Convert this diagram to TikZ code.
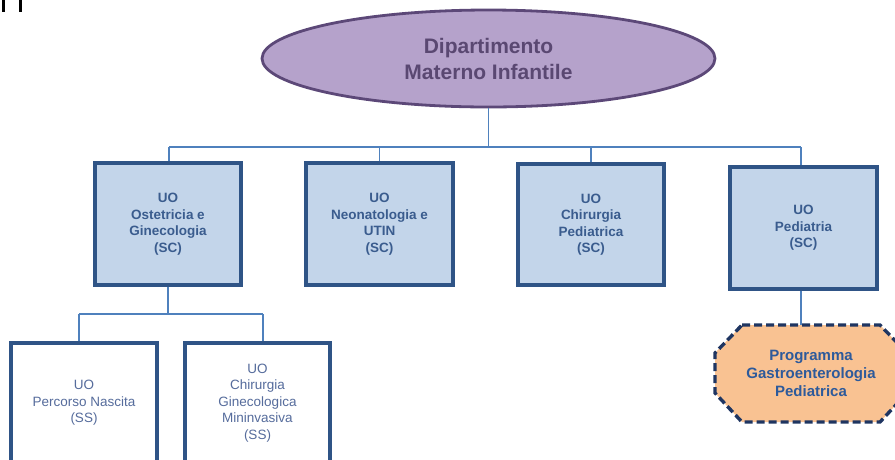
\documentclass[tikz,border=0pt]{standalone}
\usepackage{fontspec}
\setmainfont{Liberation Sans}
\usetikzlibrary{shapes.geometric}
\definecolor{lineblue}{HTML}{4F81BD}
\definecolor{boxfill}{HTML}{C3D5EA}
\definecolor{boxedge}{HTML}{2F5486}
\definecolor{boxtext}{HTML}{3A5C8E}
\definecolor{subtext}{HTML}{566C9C}
\definecolor{ellfill}{HTML}{B5A2CB}
\definecolor{elledge}{HTML}{5C4878}
\definecolor{elltext}{HTML}{5A4872}
\definecolor{octfill}{HTML}{F9C292}
\definecolor{octedge}{HTML}{1F3561}
\definecolor{octtext}{HTML}{2D5A9B}
\tikzset{
  conn/.style={draw=lineblue, line width=1.5pt},
  topbox/.style={draw=boxedge, fill=boxfill, line width=3.2pt, inner sep=0pt,
    align=center, text=boxtext, font=\fontsize{13.5}{16.5}\selectfont\bfseries},
  subbox/.style={draw=boxedge, fill=white, line width=3.2pt, inner sep=0pt,
    align=center, text=subtext, font=\fontsize{13.5}{16.5}\selectfont},
  dept/.style={ellipse, draw=elledge, fill=ellfill, line width=2.8pt, inner sep=0pt,
    minimum width=453pt, minimum height=97pt, align=center, text=elltext,
    font=\fontsize{21}{26}\selectfont\bfseries},
  octlabel/.style={align=center, text=octtext, inner sep=0pt,
    font=\fontsize{15}{18}\selectfont\bfseries}
}
\begin{document}
\begin{tikzpicture}[x=1pt,y=-1pt]
\useasboundingbox (0,0) rectangle (895,459);
% cropped artifacts at top-left
\fill[black] (2,0) rectangle (4.5,12);
\fill[black] (19,0) rectangle (21.5,12);

\node[dept] (dip) at (488.5,58.5) {Dipartimento\\Materno Infantile};

\node[topbox, minimum width=146pt, minimum height=122pt] (b1) at (168,224) {UO\\Ostetricia e\\Ginecologia\\(SC)};
\node[topbox, minimum width=147pt, minimum height=122pt] (b2) at (379.5,224) {UO\\Neonatologia e\\UTIN\\(SC)};
\node[topbox, minimum width=146pt, minimum height=121pt] (b3) at (591,224.5) {UO\\Chirurgia\\Pediatrica\\(SC)};
\node[topbox, minimum width=147pt, minimum height=122pt] (b4) at (803.5,228) {UO\\Pediatria\\(SC)};

\node[subbox, minimum width=146pt, minimum height=120pt] (b5) at (84,403) {UO\\Percorso Nascita\\(SS)};
\node[subbox, minimum width=145pt, minimum height=120pt] (b6) at (257.5,403) {UO\\Chirurgia\\Ginecologica\\Mininvasiva\\(SS)};

% octagon
\draw[octedge, fill=octfill, line width=3.4pt, dash pattern=on 8pt off 4pt]
  (742,325) -- (880,325) -- (907,353) -- (907,393) -- (880,422) -- (742,422) -- (715,393) -- (715,353) -- cycle;
\node[octlabel] (oct) at (811,373) {Programma\\Gastroenterologia\\Pediatrica};
\coordinate (octtop) at (811,325);

% top-level bus
\coordinate (busL) at (169,147);
\coordinate (busR) at (801,147);
\draw[conn] (dip.south) -- (dip.south |- busL);
\draw[conn] (busL) -- (busR);
\draw[conn] (busL) -- (busL |- b1.north);
\draw[conn] (b2.north) -- (b2.north |- busL);
\draw[conn] (b3.north) -- (b3.north |- busL);
\draw[conn] (busR) -- (busR |- b4.north);

% second-level bus
\coordinate (bus2L) at (79,314);
\coordinate (bus2R) at (263,314);
\draw[conn] (b1.south) -- (b1.south |- bus2L);
\draw[conn] (bus2L) -- (bus2R);
\draw[conn] (bus2L) -- (bus2L |- b5.north);
\draw[conn] (bus2R) -- (bus2R |- b6.north);

% pediatria to programma
\draw[conn] (busR |- b4.south) -- (busR |- octtop);
\end{tikzpicture}
\end{document}
